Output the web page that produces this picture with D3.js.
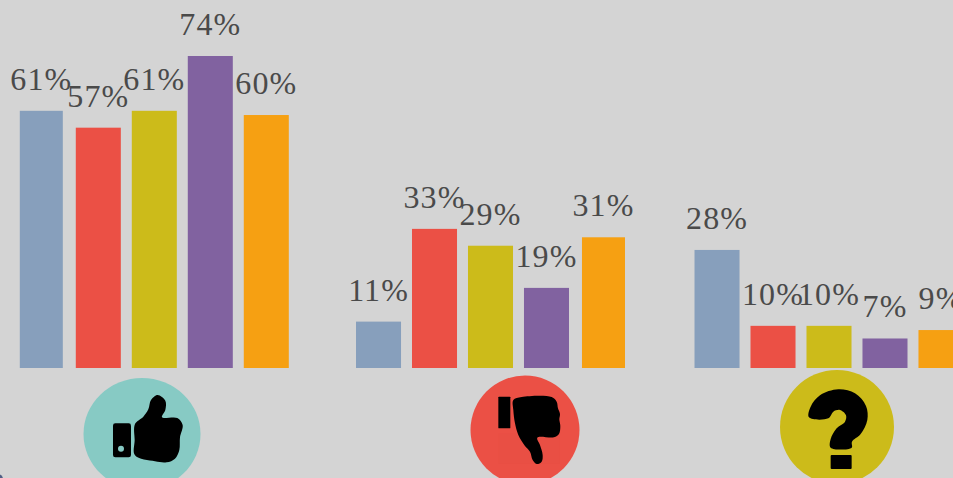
<!DOCTYPE html>
<html>
<head>
<meta charset="utf-8">
<script src="https://cdn.jsdelivr.net/npm/d3@7/dist/d3.min.js"></script>
<style>
  html, body { margin: 0; padding: 0; background: #d4d4d4; overflow: hidden; }
  svg { display: block; }
  text { font-family: "Liberation Serif", serif; font-size: 32px; letter-spacing: 1.1px; fill: #4a4a4a; text-anchor: middle; }
</style>
</head>
<body>
<div id="chart"></div>
<script>
var groups = ['like', 'dislike', 'unsure'];
var series = ['a', 'b', 'c', 'd', 'e'];
var likeValues = [61, 57, 61, 74, 60];
var dislikeValues = [11, 33, 29, 19, 31];
var unsureValues = [28, 10, 10, 7, 9];
var seriesColors = ['#879fbc', '#eb5045', '#ccbb1a', '#8162a0', '#f6a012'];
var valuesByGroup = {like: likeValues, dislike: dislikeValues, unsure: unsureValues};

var width = 953,
    height = 478,
    baseline = 368;

var svg = d3.select('#chart').append('svg')
    .attr('width', width)
    .attr('height', height);

// the three clusters are not quite evenly spaced in the picture
var x0 = d3.scaleOrdinal().domain(groups).range([19.8, 356, 694.5]);
var x1 = d3.scaleBand().domain(series).range([0, 269]).paddingInner(0.196);
var y = d3.scaleLinear().domain([0, 74]).range([baseline, 56]);

// two bars are drawn a bit narrower than the rest
function barLeft(d) {
  return x1(d.key) + (d.group === 'dislike' && d.key === 'e' ? 2 : 0);
}
function barRight(d) {
  return x1(d.key) + x1.bandwidth() - (d.group === 'like' && d.key === 'a' ? 2 : 0);
}

var group = svg.selectAll('.group')
    .data(groups)
    .enter().append('g')
    .attr('class', 'group')
    .attr('transform', function(d) { return 'translate(' + x0(d) + ',0)'; });

var bar = group.selectAll('.bar')
    .data(function(g) {
      return valuesByGroup[g].map(function(v, i) { return {group: g, key: series[i], value: v, color: seriesColors[i]}; });
    })
    .enter().append('g')
    .attr('class', 'bar');

bar.append('rect')
    .attr('x', barLeft)
    .attr('y', function(d) { return y(d.value); })
    .attr('width', function(d) { return barRight(d) - barLeft(d); })
    .attr('height', function(d) { return baseline - y(d.value); })
    .attr('fill', function(d) { return d.color; });

bar.append('text')
    .attr('x', function(d) { return (barLeft(d) + barRight(d)) / 2; })
    .attr('y', function(d) { return y(d.value) - 21; })
    .text(function(d) { return d.value + '%'; });

// icons, outlines traced at 3x from the crop origin
var outline = d3.line().curve(d3.curveCatmullRomClosed.alpha(0.5));

function icon(x, y) {
  return svg.append('g').attr('transform', 'translate(' + x + ',' + y + ') scale(0.3333)');
}

svg.append('ellipse').attr('cx', 142).attr('cy', 434).attr('rx', 58.5).attr('ry', 56).attr('fill', '#87cac4');
var up = icon(60, 360);
up.append('rect').attr('x', 159).attr('y', 190).attr('width', 54).attr('height', 102).attr('rx', 7).attr('fill', '#000');
up.append('circle').attr('cx', 183).attr('cy', 266).attr('r', 9).attr('fill', '#87cac4');
up.append('path').attr('d', outline([[225,192],[250,170],[265,148],[273,120],[293,105],[316,122],[316,150],[306,172],[352,174],[368,195],[360,232],[358,270],[345,296],[320,307],[285,304],[225,286],[224,240]]));

svg.append('circle').attr('cx', 525).attr('cy', 430).attr('r', 54.5).attr('fill', '#eb5045');
var down = icon(450, 360);
down.append('rect').attr('x', 145).attr('y', 220).attr('width', 185).attr('height', 92).attr('fill', '#e94f44');
down.append('rect').attr('x', 145).attr('y', 110).attr('width', 36).attr('height', 95).attr('rx', 2).attr('fill', '#000');
down.append('path').attr('d', outline([[190,120],[215,111],[305,111],[320,125],[324,145],[330,162],[328,178],[331,198],[327,222],[312,232],[262,233],[270,255],[278,285],[275,305],[260,312],[248,300],[240,275],[225,258],[205,225],[195,190],[190,150]]));

svg.append('circle').attr('cx', 837).attr('cy', 427).attr('r', 57).attr('fill', '#ccbb1a');
var unsure = icon(760, 360);
unsure.append('path').attr('d', outline([[147,172],[152,140],[180,106],[235,88],[285,100],[318,138],[322,180],[302,222],[276,245],[275,263],[212,263],[212,237],[230,205],[255,185],[258,166],[240,150],[220,155],[205,175]]));
unsure.append('rect').attr('x', 212).attr('y', 285).attr('width', 63).attr('height', 42).attr('rx', 3).attr('fill', '#000');

// speck of the cropped element in the bottom-left corner
svg.append('circle').attr('cx', -2).attr('cy', 479).attr('r', 5).attr('fill', '#4f5f85');
</script>
</body>
</html>
